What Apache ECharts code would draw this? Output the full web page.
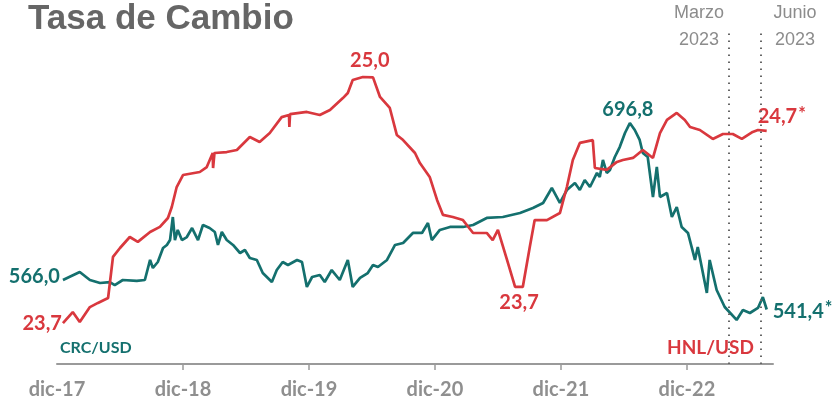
<!DOCTYPE html>
<html>
<head>
<meta charset="utf-8">
<script src="https://cdn.jsdelivr.net/npm/echarts@6/dist/echarts.min.js"></script>
<style>
html,body{margin:0;padding:0;background:#fff;}
#chart{width:835px;height:406px;}
</style>
</head>
<body>
<div id="chart"></div>
<script>
// CRC/USD (colones por dólar)
let crcDates=["2017-12-18","2018-02-06","2018-03-05","2018-04-04","2018-05-02","2018-05-16","2018-06-09","2018-07-19","2018-08-12",
"2018-08-27","2018-09-05","2018-09-19","2018-10-04","2018-10-15","2018-10-24","2018-11-02","2018-11-08","2018-11-16","2018-11-28","2018-12-12","2018-12-27",
"2019-01-14","2019-01-28","2019-02-17","2019-03-02","2019-03-11","2019-03-22","2019-04-06","2019-04-24","2019-05-14","2019-05-28","2019-06-12","2019-07-02","2019-07-19","2019-08-15","2019-08-29","2019-09-16","2019-10-01","2019-10-27","2019-11-11","2019-11-25","2019-12-10",
"2020-01-02","2020-01-16","2020-02-06","2020-02-29","2020-03-22","2020-04-06","2020-04-27","2020-05-19","2020-06-04","2020-06-18","2020-07-14","2020-08-07","2020-08-30","2020-09-28","2020-10-24","2020-11-11","2020-11-22","2020-12-15",
"2021-01-14","2021-02-21","2021-03-20","2021-04-29","2021-06-15","2021-08-04","2021-09-11","2021-10-10","2021-11-05","2021-11-28","2021-12-18",
"2022-01-11","2022-01-25","2022-02-09","2022-02-24","2022-03-14","2022-03-22","2022-04-01","2022-04-12","2022-04-21","2022-05-05","2022-05-19","2022-06-04","2022-06-18","2022-07-02","2022-07-16","2022-07-25","2022-08-09","2022-08-24","2022-09-05","2022-09-14",
"2022-10-04","2022-10-18","2022-11-02","2022-11-16","2022-12-04","2022-12-24",
"2023-01-02","2023-01-28","2023-02-06","2023-02-26","2023-03-19","2023-04-23","2023-05-11","2023-06-01","2023-06-24","2023-07-08","2023-07-19"];
let crcValues=[566.0,572.7,566.0,563.5,564.3,561.8,566.0,565.2,566.0,
582.7,576.0,581.0,592.7,595.2,599.3,618.5,599.3,607.7,599.3,601.8,609.3,
599.3,611.8,609.3,606.0,595.2,606.0,599.3,595.2,588.5,591.0,584.3,582.7,571.8,564.3,574.3,581.0,578.5,582.7,581.0,560.2,568.5,
570.2,564.3,574.3,566.0,582.7,560.2,567.7,571.8,578.5,576.8,582.7,595.2,596.8,605.2,605.2,613.5,599.3,607.7,
610.2,610.2,611.8,617.7,618.5,621.8,626.0,630.2,642.7,630.2,641.0,
646.8,641.0,649.3,643.5,655.2,651.8,666.0,655.2,657.7,668.5,676.8,688.5,696.8,691.0,682.7,671.8,668.5,635.2,660.2,635.2,
638.5,618.5,626.8,610.2,605.2,582.7,
593.5,555.2,582.7,557.7,543.5,532.7,541.0,538.5,542.7,551.8,541.4];

// HNL/USD (lempiras por dólar)
let hnlDates=["2017-12-18","2018-01-16","2018-02-06","2018-03-05","2018-03-28","2018-04-27","2018-05-11","2018-06-01","2018-06-29","2018-07-22","2018-08-27","2018-09-25","2018-10-18","2018-10-29","2018-11-13","2018-12-01",
"2019-01-19","2019-02-09","2019-02-26","2019-02-27","2019-03-01","2019-04-06","2019-05-05","2019-06-12","2019-07-10","2019-08-09","2019-09-13","2019-10-04","2019-10-05","2019-10-07","2019-10-12","2019-11-25",
"2020-01-02","2020-02-01","2020-03-08","2020-03-22","2020-04-06","2020-05-05","2020-06-04","2020-06-24","2020-07-22","2020-08-12","2020-08-30","2020-10-04","2020-10-18","2020-11-16","2020-12-07","2020-12-24",
"2021-01-22","2021-02-21","2021-03-20","2021-04-29","2021-05-16","2021-06-01","2021-06-27","2021-07-20","2021-08-12","2021-09-02","2021-09-16","2021-10-21","2021-11-28","2021-12-18",
"2022-01-05","2022-01-25","2022-03-02","2022-03-08","2022-04-12","2022-05-11","2022-05-28","2022-06-27","2022-07-25","2022-08-24","2022-09-14","2022-10-04","2022-11-02","2022-11-25","2022-12-10",
"2023-01-08","2023-02-15","2023-03-14","2023-04-12","2023-05-08","2023-06-09","2023-06-24","2023-07-19"];
let hnlValues=[23.705,23.763,23.711,23.789,23.811,23.837,24.053,24.100,24.158,24.132,24.184,24.211,24.258,24.316,24.421,24.484,
24.500,24.526,24.600,24.521,24.600,24.605,24.616,24.684,24.658,24.705,24.789,24.800,24.737,24.805,24.811,24.816,
24.800,24.826,24.889,24.916,24.984,25.000,24.998,24.895,24.837,24.695,24.668,24.600,24.547,24.474,24.353,24.274,
24.263,24.247,24.179,24.179,24.142,24.195,24.037,23.895,23.895,24.105,24.247,24.247,24.284,24.421,
24.563,24.653,24.668,24.521,24.511,24.553,24.563,24.574,24.616,24.574,24.705,24.774,24.811,24.774,24.737,
24.721,24.674,24.700,24.700,24.674,24.711,24.721,24.716];

let yearLabels=["dic-17","dic-18","dic-19","dic-20","dic-21","dic-22"];
let crcTags=[["2017-12-18","566,0"],["2022-06-18","696,8"],["2023-07-19","541,4*"]];
let hnlTags=[["2017-12-18","23,7"],["2020-05-05","25,0"],["2021-07-20","23,7"],["2023-07-19","24,7*"]];
let markDates=["2023-04-01","2023-07-01"];

let teal="#14706e";
let red="#d9383e";

// meses desde dic-17
function toMonth(d){
    let p=d.split("-").map(Number);
    return (p[0]-2017)*12+(p[1]-12)+(p[2]-1)/30;
}

// dónde va cada etiqueta
let placement={
    "crc|2017-12-18":{position:"left",distance:3,offset:[0,-3]},
    "crc|2022-06-18":{position:"top",distance:3,offset:[-2,0]},
    "crc|2023-07-19":{position:"right",distance:6,offset:[0,2]},
    "hnl|2017-12-18":{position:"left",distance:1,offset:[0,0]},
    "hnl|2020-05-05":{position:"top",distance:6,offset:[7,0]},
    "hnl|2021-07-20":{position:"bottom",distance:6,offset:[4,0]},
    "hnl|2023-07-19":{position:"right",distance:5,offset:[-14,-14]}
};

function buildData(key,dates,values,tags,color){
    return dates.map(function(d,i){
        let item={value:[toMonth(d),values[i]]};
        let tag=tags.find(t=>t[0]==d);
        if(tag){
            let txt=tag[1];
            let fmt=txt.endsWith("*")?`{v|${txt.slice(0,-1)}}{s|*}`:`{v|${txt}}`;
            item.label=Object.assign({
                show:true,
                formatter:fmt,
                rich:{
                    v:{fontFamily:"Lato",fontWeight:"bold",fontSize:20,color:color},
                    s:{fontFamily:"Lato",fontWeight:"bold",fontSize:18,color:color,verticalAlign:"top",padding:[0,0,6,1]}
                }
            },placement[key+"|"+d]);
        }
        return item;
    });
}

let myChart=echarts.init(document.getElementById("chart"));
let option={
    animation:false,
    grid:{left:57,right:62,top:32,bottom:42},
    xAxis:{
        type:"value",
        min:0,
        max:68.2,
        splitLine:{show:false},
        axisLine:{lineStyle:{color:"#9a9a9a",width:2}},
        axisTick:{customValues:[12,24,36,48,60],length:6,lineStyle:{color:"#9a9a9a",width:1.5}},
        axisLabel:{
            customValues:[0,12,24,36,48,60],
            formatter:function(v){return yearLabels[Math.round(v/12)];},
            margin:16,
            fontFamily:"Lato",
            fontWeight:"bold",
            fontSize:20,
            color:"#8f8f8f"
        }
    },
    yAxis:[
        {type:"value",show:false,min:496,max:772.67},
        {type:"value",show:false,min:23.4895,max:25.2368}
    ],
    series:[
        {
            name:"CRC/USD",
            type:"line",
            yAxisIndex:0,
            data:buildData("crc",crcDates,crcValues,crcTags,teal),
            symbolSize:0,
            showSymbol:true,
            showAllSymbol:true,
            lineStyle:{color:teal,width:2.7},
            itemStyle:{color:teal},
            markLine:{
                silent:true,
                symbol:"none",
                label:{show:false},
                lineStyle:{color:"#666",width:2,type:[1.5,5.5]},
                data:markDates.map(d=>({xAxis:toMonth(d)}))
            }
        },
        {
            name:"HNL/USD",
            type:"line",
            yAxisIndex:1,
            data:buildData("hnl",hnlDates,hnlValues,hnlTags,red),
            symbolSize:0,
            showSymbol:true,
            showAllSymbol:true,
            lineStyle:{color:red,width:2.7},
            itemStyle:{color:red}
        }
    ],
    graphic:[
        {type:"text",left:28,top:2,style:{text:"Tasa de Cambio",fontFamily:"Liberation Sans",fontWeight:"bold",fontSize:35,fill:"#666"}},
        {type:"text",x:699,y:13,style:{text:"Marzo",align:"center",verticalAlign:"middle",fontFamily:"Liberation Sans",fontSize:18,fill:"#8c8c8c"}},
        {type:"text",x:699,y:40,style:{text:"2023",align:"center",verticalAlign:"middle",fontFamily:"Liberation Sans",fontSize:18,fill:"#8c8c8c"}},
        {type:"text",x:795,y:13,style:{text:"Junio",align:"center",verticalAlign:"middle",fontFamily:"Liberation Sans",fontSize:18,fill:"#8c8c8c"}},
        {type:"text",x:795,y:40,style:{text:"2023",align:"center",verticalAlign:"middle",fontFamily:"Liberation Sans",fontSize:18,fill:"#8c8c8c"}},
        {type:"text",x:60,y:348,style:{text:"CRC/USD",verticalAlign:"middle",fontFamily:"Lato",fontWeight:"bold",fontSize:16,fill:teal}},
        {type:"text",x:667,y:348,style:{text:"HNL/USD",verticalAlign:"middle",fontFamily:"Lato",fontWeight:"bold",fontSize:19,fill:red}}
    ]
};
myChart.setOption(option);
</script>
</body>
</html>
